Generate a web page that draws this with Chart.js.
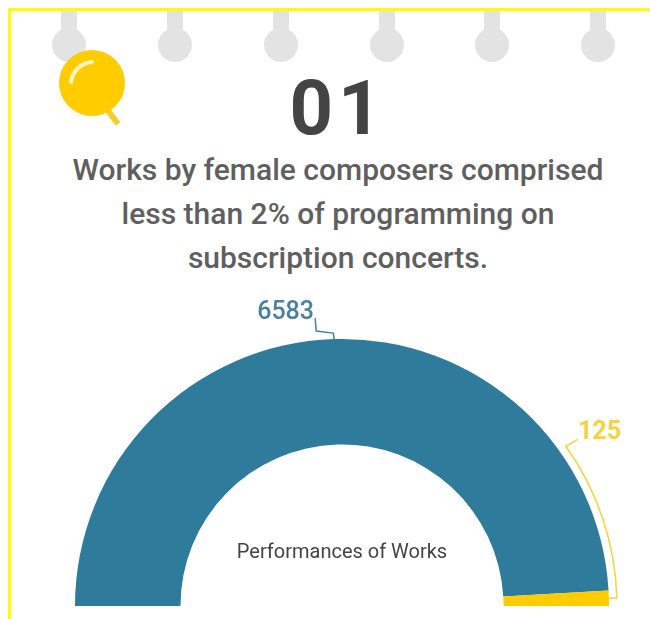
<!DOCTYPE html>
<html>
<head>
<meta charset="utf-8">
<script src="https://cdn.jsdelivr.net/npm/chart.js@4/dist/chart.umd.min.js"></script>
<style>
    html, body { margin: 0; padding: 0; background: #fff; }
    #page { position: relative; width: 650px; height: 619px; overflow: hidden; font-family: Roboto, sans-serif; }
    #frame { position: absolute; left: 8px; top: 8px; width: 700px; height: 700px; border: 3px solid #ffff00; }
    #deco { position: absolute; left: 0; top: 0; }
    #num { position: absolute; left: 0; width: 676px; top: 63px; text-align: center; font-size: 76px; line-height: 90px; font-weight: 700; color: #444; letter-spacing: 5px; }
    .line { position: absolute; left: 0; width: 676px; text-align: center; font-size: 30px; line-height: 44px; font-weight: 500; color: #5f5f5f; white-space: nowrap; }
    canvas { position: absolute; left: 0; top: 0; }
</style>
</head>
<body>
<div id="page">
    <div id="frame"></div>
    <svg id="deco" width="650" height="150">
        <g fill="#e3e3e3" id="pins"></g>
        <line x1="106" y1="108" x2="118" y2="124" stroke="#f2cf2e" stroke-width="6"/>
        <circle cx="92" cy="83" r="33" fill="#ffcc00"/>
        <path d="M71 82 A23 23 0 0 1 92 62" fill="none" stroke="#fff3c0" stroke-width="4" stroke-linecap="round"/>
    </svg>
    <div id="num">01</div>
    <div class="line" style="top:148px">Works by female composers comprised</div>
    <div class="line" style="top:192px">less than 2% of programming on</div>
    <div class="line" style="top:236px">subscription concerts.</div>
    <canvas id="gauge" width="650" height="619"></canvas>
</div>
<script>
const categories = ['Works by male composers', 'Works by female composers'];
const workCounts = [6583, 125];
const sliceColors = ['#2e7b9b', '#ffcc00'];
const labelColors = ['#4a809f', '#f5d33c'];
const centerLabel = 'Performances of Works';

// hanging pins along the top
const pinX = [69, 175, 281, 387, 492, 598];
document.getElementById('pins').innerHTML = pinX.map(x =>
    `<rect x="${x - 8}" y="11" width="16" height="30"/><circle cx="${x}" cy="45" r="17"/>`
).join('');

// Leader lines and value labels, placed from the arc elements
const leaderPlugin = {
    id: 'leaders',
    afterDatasetsDraw(chart) {
        const ctx = chart.ctx;
        const arcs = chart.getDatasetMeta(0).data;
        const blue = arcs[0];
        const gold = arcs[1];
        const cx = blue.x;
        const cy = blue.y;
        const R = blue.outerRadius;

        ctx.save();
        ctx.lineWidth = 1.5;
        ctx.font = '500 25px Roboto';
        ctx.textBaseline = 'middle';
        ctx.textAlign = 'left';

        // blue label
        const midBlue = (blue.startAngle + blue.endAngle) / 2;
        const bx = cx + R * Math.cos(midBlue);
        const by = cy + R * Math.sin(midBlue);
        ctx.strokeStyle = labelColors[0];
        ctx.beginPath();
        ctx.moveTo(bx, by);
        ctx.lineTo(bx - 1, by - 6);
        ctx.lineTo(bx - 18, by - 8);
        ctx.lineTo(bx - 19, by - 21);
        ctx.stroke();
        ctx.fillStyle = labelColors[0];
        ctx.fillText(String(workCounts[0]), bx - 77, by - 26);

        // gold label, leader runs around the outside of the arc
        const midGold = (gold.startAngle + gold.endAngle) / 2;
        const leadR = R + 8;
        const endAngle = -35.5 * Math.PI / 180;
        ctx.strokeStyle = labelColors[1];
        ctx.beginPath();
        ctx.moveTo(cx + R * Math.cos(midGold), cy + R * Math.sin(midGold));
        ctx.arc(cx, cy, leadR, midGold, endAngle, true);
        ctx.lineTo(cx + leadR * Math.cos(endAngle) + 12, cy + leadR * Math.sin(endAngle) - 7);
        ctx.stroke();
        ctx.font = '700 25px Roboto';
        ctx.fillStyle = labelColors[1];
        ctx.fillText(String(workCounts[1]), cx + 236, cy - 173);

        // center caption
        ctx.fillStyle = '#444';
        ctx.font = '400 20px Roboto';
        ctx.textAlign = 'center';
        ctx.fillText(centerLabel, cx, cy - 53);
        ctx.restore();
    }
};

new Chart(document.getElementById('gauge').getContext('2d'), {
    type: 'doughnut',
    data: {
        labels: categories,
        datasets: [{
            data: workCounts,
            backgroundColor: sliceColors,
            borderColor: '#ffffff',
            borderWidth: 0,
            spacing: 0
        }]
    },
    options: {
        responsive: false,
        animation: false,
        rotation: -90,
        circumference: 180,
        cutout: '60.5%',
        layout: { padding: { left: 75, right: 41, top: 339, bottom: 13 } },
        plugins: {
            legend: { display: false },
            tooltip: { enabled: false }
        }
    },
    plugins: [leaderPlugin]
});
</script>
</body>
</html>
